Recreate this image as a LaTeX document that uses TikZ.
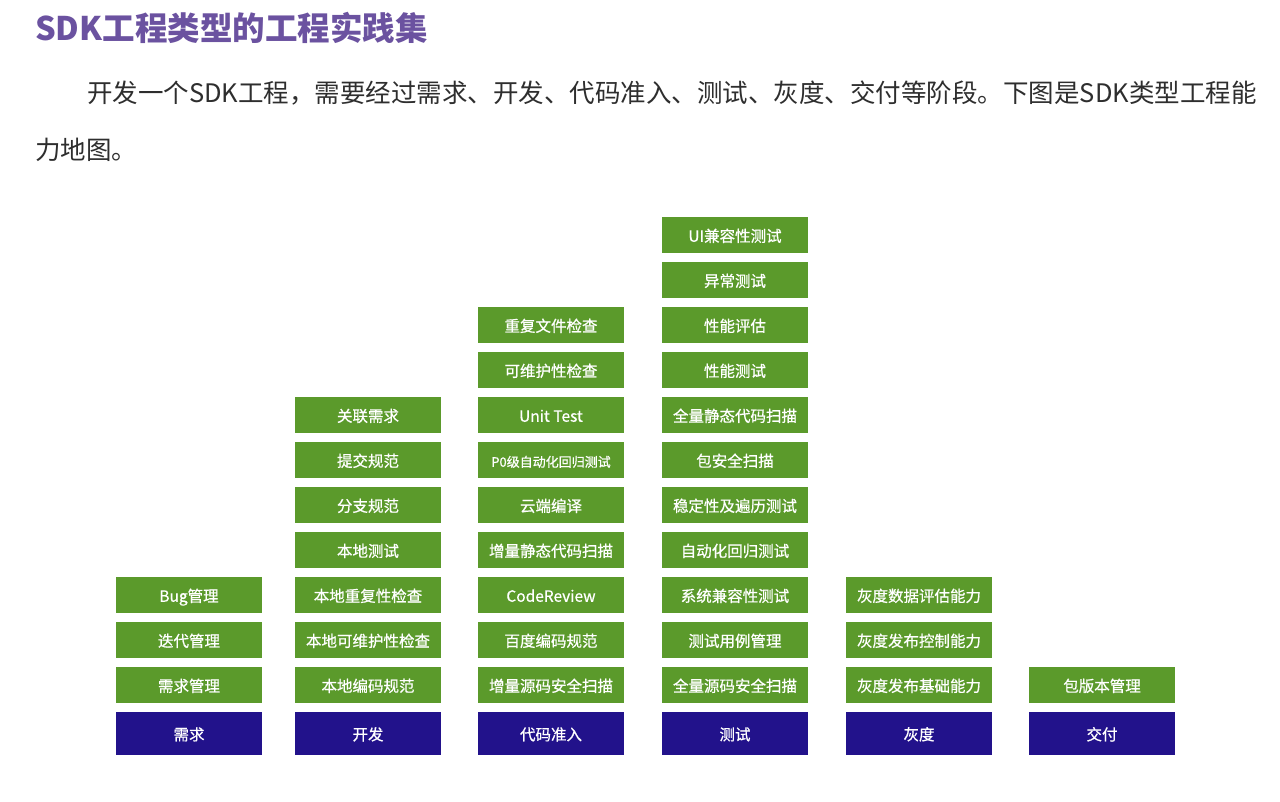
\documentclass[tikz,border=0pt]{standalone}
\usepackage{fontspec}
\setmainfont{Noto Sans CJK SC}
\newfontfamily\boxfont[FakeBold=0.7]{Noto Sans CJK SC}
\definecolor{gbg}{HTML}{5B9A2B}
\definecolor{bbg}{HTML}{22128B}
\definecolor{ttl}{HTML}{6B52A0}
\definecolor{txt}{HTML}{2E2E2E}
\tikzset{
  gbox/.style={fill=gbg, text=white, minimum width=146pt, minimum height=36.5pt, inner sep=0pt, text height=13.5pt, text depth=0pt, font=\boxfont\fontsize{15.5}{16}\selectfont},
  bbox/.style={fill=bbg, text=white, minimum width=146pt, minimum height=43pt, inner sep=0pt, text height=13.5pt, text depth=0pt, font=\boxfont\fontsize{15.5}{16}\selectfont},
  para/.style={anchor=west, inner sep=0pt, text=txt, font=\fontsize{25.5}{26}\selectfont}
}
\begin{document}
\begin{tikzpicture}[x=1pt,y=-1pt]
\useasboundingbox[fill=white] (0,0) rectangle (1280,801);
\node[anchor=west, inner sep=0pt, text=ttl, font=\fontsize{32.5}{34}\selectfont\bfseries] (title) at (35,28) {SDK工程类型的工程实践集};
\node[para] (p1) at (87,93) {开发一个SDK工程，需要经过需求、开发、代码准入、测试、灰度、交付等阶段。下图是SDK类型工程能};
\node[para] (p2) at (35,150) {力地图。};
% stage boxes
\node[bbox] (s1) at (189,733.5) {需求};
\node[bbox] (s2) at (368,733.5) {开发};
\node[bbox] (s3) at (551,733.5) {代码准入};
\node[bbox] (s4) at (735,733.5) {测试};
\node[bbox] (s5) at (919,733.5) {灰度};
\node[bbox] (s6) at (1102,733.5) {交付};
% column 1
\foreach \t [count=\k from 0] in {需求管理,迭代管理,Bug管理}
  \node[gbox] (a\k) at (189,{685-45*\k}) {\t};
% column 2
\foreach \t [count=\k from 0] in {本地编码规范,本地可维护性检查,本地重复性检查,本地测试,分支规范,提交规范,关联需求}
  \node[gbox] (b\k) at (368,{685-45*\k}) {\t};
% column 3
\foreach \t [count=\k from 0] in {增量源码安全扫描,百度编码规范,CodeReview,增量静态代码扫描,云端编译,{\fontsize{13}{14}\selectfont P0级自动化回归测试},Unit Test,可维护性检查,重复文件检查}
  \node[gbox] (c\k) at (551,{685-45*\k}) {\t};
% column 4
\foreach \t [count=\k from 0] in {全量源码安全扫描,测试用例管理,系统兼容性测试,自动化回归测试,稳定性及遍历测试,包安全扫描,全量静态代码扫描,性能测试,性能评估,异常测试,UI兼容性测试}
  \node[gbox] (d\k) at (735,{685-45*\k}) {\t};
% column 5
\foreach \t [count=\k from 0] in {灰度发布基础能力,灰度发布控制能力,灰度数据评估能力}
  \node[gbox] (e\k) at (919,{685-45*\k}) {\t};
% column 6
\node[gbox] (f0) at (1102,685) {包版本管理};
\end{tikzpicture}
\end{document}
